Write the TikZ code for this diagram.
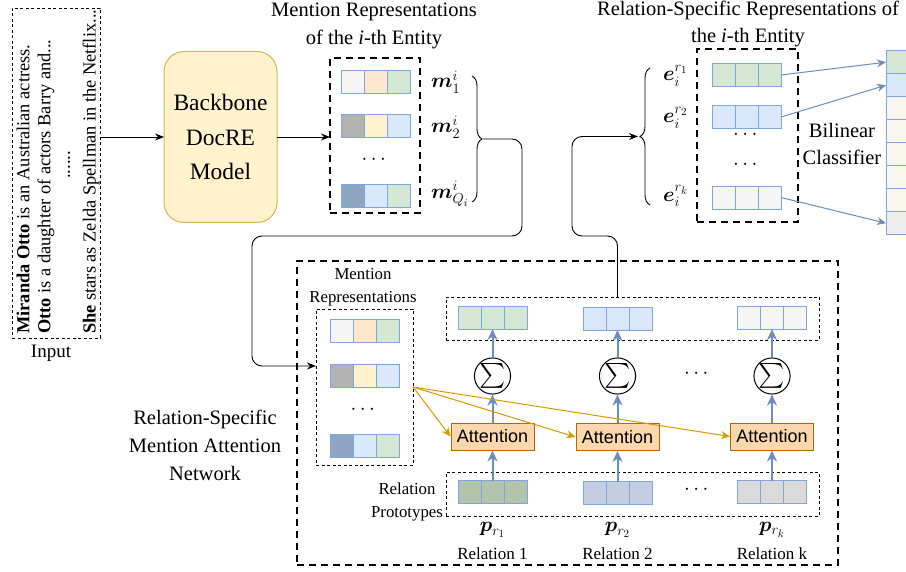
\documentclass[tikz,border=0pt]{standalone}
\usepackage{amsmath,bm}
\usepackage{fontspec}
\setmainfont{Liberation Serif}
\newfontfamily\attfont{Liberation Sans}
\usetikzlibrary{decorations.pathreplacing,arrows.meta,calc}
\definecolor{cellblue}{HTML}{7EA6E0}
\definecolor{cgray}{HTML}{F5F5F5}
\definecolor{corange}{HTML}{FFE6CC}
\definecolor{cgreen}{HTML}{D5E8D4}
\definecolor{cdgray}{HTML}{B3B3B3}
\definecolor{cyellow}{HTML}{FFF2CC}
\definecolor{cblue}{HTML}{DAE8FC}
\definecolor{cslate}{HTML}{8FA6C2}
\definecolor{ccream}{HTML}{F9F7ED}
\definecolor{cmgray}{HTML}{EEEEEE}
\definecolor{pgreen}{HTML}{B2C4AC}
\definecolor{pblue}{HTML}{C3CEE2}
\definecolor{pgray}{HTML}{DADADA}
\definecolor{arrblue}{HTML}{6C8EBF}
\definecolor{attfill}{HTML}{FAD7AC}
\definecolor{attdraw}{HTML}{B46504}
\definecolor{orarrow}{HTML}{D79B00}
\definecolor{bbfill}{HTML}{FFF2CC}
\definecolor{bbdraw}{HTML}{D6B656}
\newcommand\setfs[2]{\fontsize{#1}{#2}\selectfont}
\newcommand\vrow[6]{%
  \node[vcell,fill=#4,anchor=west] (#1a) at (#2,#3) {};
  \node[vcell,fill=#5,anchor=west] (#1b) at (#1a.east) {};
  \node[vcell,fill=#6,anchor=west] (#1c) at (#1b.east) {};
}
\begin{document}
\begin{tikzpicture}[x=1pt,y=-1pt,
  vcell/.style={draw=cellblue,line width=0.9pt,minimum width=23pt,minimum height=23pt,inner sep=0pt,outer sep=0pt},
  bigdash/.style={draw=black,line width=1.8pt,dash pattern=on 7pt off 5pt},
  smalldash/.style={draw=black,line width=0.8pt,dash pattern=on 3pt off 2.5pt},
  regbox/.style={inner sep=0pt,outer sep=0pt},
  conn/.style={draw=black,line width=0.9pt,rounded corners=10pt,-{Stealth[length=9pt,width=7pt]}},
  bluearr/.style={draw=arrblue,line width=2pt,-{Stealth[length=11pt,width=10pt,inset=3.5pt]}},
  thinblue/.style={draw=arrblue,line width=1pt,-{Stealth[length=9pt,width=8pt]}},
  orarr/.style={draw=orarrow,line width=1pt,-{Stealth[length=9pt,width=8pt]}},
  attbox/.style={draw=attdraw,fill=attfill,line width=1pt,minimum width=83pt,minimum height=27pt,inner sep=0pt,font=\attfont\setfs{18}{20}},
  sigmanode/.style={circle,draw=black,line width=1pt,minimum size=34pt,inner sep=0pt,font=\setfs{25}{26}},
  lbl/.style={inner sep=0pt,align=center},
  mathlbl/.style={inner sep=0pt,font=\setfs{22.5}{26}},
  dotslbl/.style={inner sep=0pt,font=\setfs{20}{24}},
]
\useasboundingbox (0,0) rectangle (906,572);
\clip (0,0) rectangle (906,572);

% ---------- Input ----------
\node[regbox,smalldash,minimum width=88pt,minimum height=330pt] (inp) at (56,173) {};
\node[lbl,rotate=90,anchor=west,font=\setfs{18.4}{22}] (t1) at (23,334) {\textbf{Miranda Otto} is an Australian actress.};
\node[lbl,rotate=90,anchor=west,font=\setfs{18.4}{22}] (t2) at (46,334) {\textbf{Otto} is a daughter of actors Barry and...};
\node[lbl,rotate=90,font=\setfs{18.4}{22}] (t3) at (69,165) {......};
\node[lbl,rotate=90,anchor=west,font=\setfs{18.4}{22}] (t4) at (91,334) {\textbf{She} stars as Zelda Spellman in the Netflix...};
\node[lbl,font=\setfs{19}{22}] (inlbl) at (51,353) {Input};

% ---------- Backbone ----------
\node[regbox,draw=bbdraw,fill=bbfill,line width=1pt,rounded corners=20pt,minimum width=113pt,minimum height=171pt] (bb) at (220.5,137) {};
\node[lbl,font=\setfs{23.5}{34.5}] (bbt) at (bb.center) {Backbone\\DocRE\\Model};

% ---------- Mention representations (top) ----------
\node[lbl,font=\setfs{20.5}{28}] (mtitle) at (374,26) {Mention Representations\\of the \textit{i}-th Entity};
\node[regbox,bigdash,minimum width=90pt,minimum height=155pt] (mbox) at (375,135.5) {};
\vrow{mA}{341}{81.5}{cgray}{corange}{cgreen}
\vrow{mB}{341}{126}{cdgray}{cyellow}{cblue}
\vrow{mC}{341}{195.5}{cslate}{cblue}{cgreen}
\node[dotslbl] (mdots) at (375.5,160) {$\cdots$};
\node[mathlbl,anchor=west] (m1) at (431,82) {$\bm{m}^{i}_{1}$};
\node[mathlbl,anchor=west] (m2) at (431,127) {$\bm{m}^{i}_{2}$};
\node[mathlbl,anchor=west] (m3) at (431,194) {$\bm{m}^{i}_{Q_i}$};
\draw[decorate,decoration={brace,amplitude=10pt},line width=0.9pt] (472,76) -- (472,202);
\coordinate (b1tip) at (483,139);

% ---------- arrows top-left ----------
\draw[conn] (bb.west -| inp.east) -- (bb.west);
\draw[conn] (bb.east) -- (bb.east -| mbox.west);

% ---------- Relation-specific representations (top right) ----------
\node[lbl,font=\setfs{20.5}{27}] (etitle) at (748,23.5) {Relation-Specific Representations of\\the \textit{i}-th Entity};
\node[regbox,bigdash,minimum width=101pt,minimum height=173pt] (ebox) at (747.5,135.5) {};
\vrow{eA}{712}{75}{cgreen}{cgreen}{cgreen}
\vrow{eB}{712}{117}{cblue}{cblue}{cblue}
\vrow{eC}{712}{197.5}{cgray}{cgray}{cgray}
\node[dotslbl] (edots1) at (747,135) {$\cdots$};
\node[dotslbl] (edots2) at (747,165) {$\cdots$};
\node[mathlbl,anchor=west] (e1) at (663,76) {$\bm{e}^{r_1}_{i}$};
\node[mathlbl,anchor=west] (e2) at (663,118) {$\bm{e}^{r_2}_{i}$};
\node[mathlbl,anchor=west] (e3) at (663,196) {$\bm{e}^{r_k}_{i}$};
\draw[decorate,decoration={brace,amplitude=10pt},line width=0.9pt] (650,205) -- (650,68);
\coordinate (etip) at (638,136.5);
\node[lbl,font=\setfs{20.5}{27}] (bil) at (842,144) {Bilinear\\Classifier};

% classifier column
\foreach \k/\c in {1/cgreen,2/cblue,3/ccream,4/ccream,5/ccream,6/ccream,7/ccream,8/cmgray}{
  \node[vcell,fill=\c,minimum width=46pt,anchor=north west] (cl\k) at (886,{50.7+23*(\k-1)}) {};
}
\draw[thinblue] (eAc.east) -- (cl1.west);
\draw[thinblue] (eBc.east) -- (cl2.west);
\draw[thinblue] (eCc.east) -- (cl8.west);

% ---------- Bottom network ----------
\node[regbox,bigdash,minimum width=541pt,minimum height=304pt] (net) at (567.5,413) {};
\node[lbl,font=\setfs{20.5}{28}] (netlbl) at (205,445) {Relation-Specific\\Mention Attention\\Network};

\node[lbl,font=\setfs{16.8}{23}] (milbl) at (363,287) {Mention\\Representations};
\node[regbox,smalldash,minimum width=97pt,minimum height=156pt] (mibox) at (364.5,387) {};
\vrow{nA}{330}{331}{cgray}{corange}{cgreen}
\vrow{nB}{330}{375.5}{cdgray}{cyellow}{cblue}
\vrow{nC}{330}{445.5}{cslate}{cblue}{cgreen}
\node[dotslbl] (ndots) at (364.5,410) {$\cdots$};
\coordinate (miin) at (mibox.west |- 0,366);
\coordinate (ms) at (413,387);

% output box
\node[regbox,smalldash,minimum width=373pt,minimum height=43pt] (obox) at (632.5,318.5) {};
\vrow{oA}{458}{317.5}{cgreen}{cgreen}{cgreen}
\vrow{oB}{583}{318.5}{cblue}{cblue}{cblue}
\vrow{oC}{737.5}{317.5}{cgray}{cgray}{cgray}

% sigma
\node[sigmanode] (s1) at (492.5,376) {$\sum$};
\node[sigmanode] (s2) at (617.5,376) {$\sum$};
\node[sigmanode] (s3) at (772,376) {$\sum$};
\node[dotslbl] (sdots) at (698,374) {$\cdots$};

% attention
\node[attbox] (att1) at (492.5,436.5) {Attention};
\node[attbox] (att2) at (617.5,437) {Attention};
\node[attbox] (att3) at (772,436.5) {Attention};

% prototypes
\node[regbox,smalldash,minimum width=373pt,minimum height=44pt] (pbox) at (632.5,494) {};
\vrow{pA}{458}{492}{pgreen}{pgreen}{pgreen}
\vrow{pB}{583}{493}{pblue}{pblue}{pblue}
\vrow{pC}{737.5}{492}{pgray}{pgray}{pgray}
\node[dotslbl] (pdots) at (698,490) {$\cdots$};
\node[lbl,font=\setfs{16.8}{23}] (plbl) at (407,502) {Relation\\Prototypes};

\node[mathlbl] (p1) at (492.5,530) {$\bm{p}_{r_1}$};
\node[mathlbl] (p2) at (617.5,530) {$\bm{p}_{r_2}$};
\node[mathlbl] (p3) at (772,530) {$\bm{p}_{r_k}$};
\node[lbl,font=\setfs{17}{20}] (r1) at (492.5,554) {Relation 1};
\node[lbl,font=\setfs{17}{20}] (r2) at (617.5,554) {Relation 2};
\node[lbl,font=\setfs{17}{20}] (r3) at (772,554) {Relation k};

% blue arrows
\foreach \i/\p/\o in {1/pA/oA,2/pB/oB,3/pC/oC}{
  \draw[bluearr] (\p b.north) -- (att\i.south);
  \draw[bluearr] (att\i.north) -- (s\i.south);
  \draw[bluearr] (s\i.north) -- (\o b.south);
}

% orange arrows
\draw[orarr] (ms) -- (att1.west);
\draw[orarr] (ms) -- (att2.west);
\draw[orarr] (ms) -- (att3.west);

% long connectors
\draw[conn] (b1tip) -- (522,139) -- (522,236) -- (252,236) -- (252,366) -- (miin);
\draw[conn] (oBb |- obox.north) -- (617.5,236) -- (572,236) -- (572,136.5) -- (etip);
\end{tikzpicture}
\end{document}
